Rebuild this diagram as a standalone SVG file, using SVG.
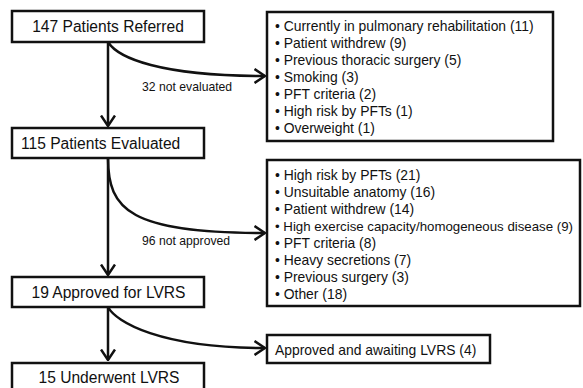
<svg xmlns="http://www.w3.org/2000/svg" width="583" height="388" viewBox="0 0 583 388">
<style>
.box{fill:#fff;stroke:#111;stroke-width:2.5}
.main{font-family:"Liberation Sans",Arial,sans-serif;font-size:15.6px;fill:#111}
.list{font-family:"Liberation Sans",Arial,sans-serif;font-size:13.9px;fill:#111}
.lbl{font-family:"Liberation Sans",Arial,sans-serif;font-size:12.2px;fill:#111}
.conn{fill:none;stroke:#111;stroke-width:2.5}
</style>
<defs>
<marker id="chev" viewBox="0 0 12 16" refX="11" refY="8" markerWidth="12" markerHeight="16" markerUnits="userSpaceOnUse" orient="auto">
<path d="M0.5,1 L11,8 L0.5,15" fill="none" stroke="#111" stroke-width="2.5"/>
</marker>
</defs>
<rect width="583" height="388" fill="#fff"/>
<g id="connectors">
<path class="conn" d="M108,42 L108,126" marker-end="url(#chev)"/>
<path class="conn" d="M108,42 C118,58 160,76 265,76" marker-end="url(#chev)"/>
<path class="conn" d="M108,158 L108,275" marker-end="url(#chev)"/>
<path class="conn" d="M108,158 C108,210 130,233 265,233" marker-end="url(#chev)"/>
<path class="conn" d="M108,307 L108,360" marker-end="url(#chev)"/>
<path class="conn" d="M108,307 C116,322 160,348 265,348" marker-end="url(#chev)"/>
<text class="lbl" x="142" y="91">32 not evaluated</text>
<text class="lbl" x="142" y="245">96 not approved</text>
</g>
<g id="referred">
<rect class="box" x="12" y="11" width="192" height="31"/>
<text class="main" x="108" y="32" text-anchor="middle">147 Patients Referred</text>
</g>
<g id="evaluated">
<rect class="box" x="12" y="128" width="192" height="30"/>
<text class="main" x="21" y="149">115 Patients Evaluated</text>
</g>
<g id="approved">
<rect class="box" x="12" y="277" width="192" height="30"/>
<text class="main" x="108.5" y="298" text-anchor="middle">19 Approved for LVRS</text>
</g>
<g id="underwent">
<rect class="box" x="12" y="363" width="192" height="32"/>
<text class="main" x="109" y="383" text-anchor="middle">15 Underwent LVRS</text>
</g>
<g id="not-evaluated-reasons">
<rect class="box" x="267" y="12" width="286" height="129"/>
<text class="list" x="275" y="31">• Currently in pulmonary rehabilitation (11)</text>
<text class="list" x="275" y="48">• Patient withdrew (9)</text>
<text class="list" x="275" y="65">• Previous thoracic surgery (5)</text>
<text class="list" x="275" y="82">• Smoking (3)</text>
<text class="list" x="275" y="99">• PFT criteria (2)</text>
<text class="list" x="275" y="116">• High risk by PFTs (1)</text>
<text class="list" x="275" y="133">• Overweight (1)</text>
</g>
<g id="not-approved-reasons">
<rect class="box" x="267" y="160" width="313" height="146"/>
<text class="list" x="275" y="180">• High risk by PFTs (21)</text>
<text class="list" x="275" y="197">• Unsuitable anatomy (16)</text>
<text class="list" x="275" y="214">• Patient withdrew (14)</text>
<text class="list" x="275" y="231" style="font-size:13.2px" textLength="298" lengthAdjust="spacingAndGlyphs">• High exercise capacity/homogeneous disease (9)</text>
<text class="list" x="275" y="248">• PFT criteria (8)</text>
<text class="list" x="275" y="265">• Heavy secretions (7)</text>
<text class="list" x="275" y="282">• Previous surgery (3)</text>
<text class="list" x="275" y="299">• Other (18)</text>
</g>
<g id="awaiting">
<rect class="box" x="267" y="335" width="223" height="28"/>
<text class="list" x="275" y="355">Approved and awaiting LVRS (4)</text>
</g>
</svg>
